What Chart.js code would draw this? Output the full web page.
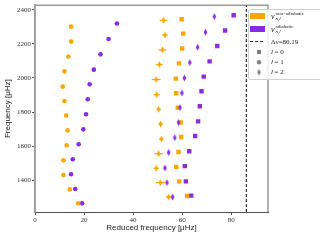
<!DOCTYPE html>
<html>
<head>
<meta charset="utf-8">
<script src="https://cdn.jsdelivr.net/npm/chart.js@4"></script>
<style>
  html, body { margin: 0; padding: 0; background: #fff; }
  canvas { display: block; }
</style>
</head>
<body>
<canvas id="chart" width="320" height="240"></canvas>
<script>
'use strict';

// l = 1 (circles)
const freqL1Non = [2302, 2214, 2126, 2039, 1949, 1865, 1779, 1692, 1604, 1516, 1429, 1345, 1263];
const redL1Non = [14.7, 14.7, 13.6, 12.0, 11.3, 12.0, 12.7, 13.3, 12.9, 11.6, 11.6, 14.2, 17.6];
const freqL1Ad = [2320, 2229, 2139, 2049, 1963, 1875, 1787, 1698, 1610, 1522, 1434, 1347, 1263];
const redL1Ad = [33.4, 30.0, 26.7, 24.0, 22.3, 21.5, 20.8, 19.7, 17.8, 15.4, 14.7, 16.4, 19.2];

// l = 2 (thin diamonds)
const freqL2Non = [2339, 2253, 2165, 2079, 1991, 1902, 1816, 1729, 1641, 1555, 1469, 1385, 1300];
const redL2Non = [52.4, 53.0, 52.0, 50.7, 49.4, 49.6, 50.4, 51.2, 51.5, 50.4, 49.4, 51.1, 54.5];
const errL2Non = [1.6, 1.2, 1.6, 1.4, 1.8, 1.2, 0.9, 0.9, 0.9, 1.8, 1.1, 1.9, 1.1];
const freqL2Ad = [2361, 2269, 2181, 2091, 2000, 1912, 1826, 1738, 1649, 1562, 1471, 1385, 1300];
const redL2Ad = [73.1, 69.5, 66.3, 63.1, 60.9, 59.9, 59.1, 58.5, 57.0, 54.5, 53.0, 53.8, 56.1];

// l = 0 (squares)
const freqL0Non = [2345, 2261, 2173, 2086, 1996, 1910, 1826, 1738, 1653, 1565, 1477, 1392, 1306];
const redL0Non = [59.8, 60.4, 60.0, 58.7, 57.4, 57.6, 58.2, 59.4, 59.6, 58.5, 57.6, 58.8, 62.0];
const freqL0Ad = [2369, 2279, 2188, 2098, 2008, 1922, 1834, 1745, 1659, 1569, 1482, 1392, 1308];
const redL0Ad = [81.0, 77.5, 74.3, 71.2, 68.8, 67.9, 67.2, 66.5, 65.3, 62.9, 61.1, 61.5, 63.7];

const deltaNu = 86.19;
const xTicks = [0, 20, 40, 60, 80];
const yTicks = [1400, 1600, 1800, 2000, 2200, 2400];
const xRange = [0, 95];
const yRange = [1212, 2428];

const ORANGE = '#ffa500';
const PURPLE = '#8a2be2';
const GREY = '#808080';

function pts(xs, ys) {
  return xs.map((x, i) => ({ x, y: ys[i] }));
}

function thinDiamond(color) {
  const c = document.createElement('canvas');
  c.width = 5;
  c.height = 8;
  const g = c.getContext('2d');
  g.fillStyle = color;
  g.beginPath();
  g.moveTo(2.5, 0.5);
  g.lineTo(4.3, 4);
  g.lineTo(2.5, 7.5);
  g.lineTo(0.7, 4);
  g.closePath();
  g.fill();
  return c;
}

const errorBars = {
  id: 'errorBars',
  beforeDatasetsDraw(chart) {
    const { ctx, scales: { x, y } } = chart;
    chart.data.datasets.forEach(ds => {
      if (!ds.errX) return;
      ctx.save();
      ctx.strokeStyle = ds.borderColor;
      ctx.lineWidth = 1.2;
      ds.data.forEach((p, i) => {
        const py = y.getPixelForValue(p.y);
        ctx.beginPath();
        ctx.moveTo(x.getPixelForValue(p.x - ds.errX[i]), py);
        ctx.lineTo(x.getPixelForValue(p.x + ds.errX[i]), py);
        ctx.stroke();
      });
      ctx.restore();
    });
  },
};

const frame = {
  id: 'frame',
  beforeDatasetsDraw(chart) {
    const { ctx, chartArea: a } = chart;
    ctx.save();
    ctx.strokeStyle = '#9a9a9a';
    ctx.lineWidth = 1.5;
    ctx.beginPath();
    ctx.moveTo(a.left, a.bottom);
    ctx.lineTo(a.left, a.top);
    ctx.lineTo(a.right, a.top);
    ctx.lineTo(a.right, a.bottom);
    ctx.stroke();
    ctx.restore();
  },
};

function drawNu(ctx, x, y, sup, sub) {
  ctx.font = 'italic 8px "Liberation Serif"';
  ctx.textBaseline = 'middle';
  ctx.fillText('ν', x, y + 1);
  ctx.font = '5px "Liberation Serif"';
  ctx.fillText(sup, x + 4.5, y - 2);
  ctx.font = 'italic 5px "Liberation Serif"';
  ctx.fillText(sub, x + 4.5, y + 3);
}

const legendBox = {
  id: 'legendBox',
  afterDraw(chart) {
    const ctx = chart.ctx;
    ctx.save();
    ctx.fillStyle = 'rgba(255,255,255,0.85)';
    ctx.strokeStyle = '#d0d0d0';
    ctx.lineWidth = 1;
    ctx.beginPath();
    ctx.roundRect(248.5, 9.5, 80, 70, 2);
    ctx.fill();
    ctx.stroke();

    ctx.fillStyle = ORANGE;
    ctx.fillRect(250, 13, 15, 6);
    ctx.fillStyle = PURPLE;
    ctx.fillRect(250, 26, 15, 6);

    ctx.fillStyle = '#222';
    drawNu(ctx, 271, 16, 'non−adiabatic', 'n,l');
    drawNu(ctx, 271, 29, 'adiabatic', 'n,l');

    ctx.strokeStyle = '#333';
    ctx.setLineDash([3, 2]);
    ctx.beginPath();
    ctx.moveTo(250, 41.5);
    ctx.lineTo(264, 41.5);
    ctx.stroke();
    ctx.setLineDash([]);

    ctx.fillStyle = '#222';
    ctx.font = '7px "Liberation Serif"';
    ctx.textBaseline = 'middle';
    ctx.fillText('Δν=86.19', 271, 42);

    ctx.fillStyle = GREY;
    ctx.fillRect(257, 50, 4, 4);
    ctx.beginPath();
    ctx.arc(259, 62.3, 2.2, 0, Math.PI * 2);
    ctx.fill();
    ctx.drawImage(thinDiamond(GREY), 256.5, 68.3);

    ctx.fillStyle = '#222';
    ctx.font = 'italic 7px "Liberation Serif"';
    ['l', 'l', 'l'].forEach((t, i) => ctx.fillText(t, 271, 52 + i * 10.3));
    ctx.font = '7px "Liberation Serif"';
    ['= 0', '= 1', '= 2'].forEach((t, i) => ctx.fillText(t, 274.5, 52 + i * 10.3));
    ctx.restore();
  },
};

const tickFont = { family: '"Liberation Serif"', size: 7 };
const titleFont = { family: '"Liberation Sans"', size: 8 };

new Chart(document.getElementById('chart').getContext('2d'), {
  type: 'scatter',
  data: {
    datasets: [
      {
        label: 'dnu',
        type: 'line',
        data: [{ x: deltaNu, y: yRange[0] }, { x: deltaNu, y: yRange[1] }],
        borderColor: '#333',
        borderWidth: 1.2,
        borderDash: [3, 2],
        pointRadius: 0,
        showLine: true,
      },
      { label: 'l1 non', data: pts(redL1Non, freqL1Non), backgroundColor: ORANGE, borderColor: ORANGE, pointStyle: 'circle', pointRadius: 2.3, borderWidth: 0 },
      { label: 'l1 ad', data: pts(redL1Ad, freqL1Ad), backgroundColor: PURPLE, borderColor: PURPLE, pointStyle: 'circle', pointRadius: 2.3, borderWidth: 0 },
      { label: 'l2 non', data: pts(redL2Non, freqL2Non), errX: errL2Non, backgroundColor: ORANGE, borderColor: ORANGE, pointStyle: thinDiamond(ORANGE) },
      { label: 'l2 ad', data: pts(redL2Ad, freqL2Ad), backgroundColor: PURPLE, borderColor: PURPLE, pointStyle: thinDiamond(PURPLE) },
      { label: 'l0 non', data: pts(redL0Non, freqL0Non), backgroundColor: ORANGE, borderColor: ORANGE, pointStyle: 'rect', pointRadius: 3.1, borderWidth: 0 },
      { label: 'l0 ad', data: pts(redL0Ad, freqL0Ad), backgroundColor: PURPLE, borderColor: PURPLE, pointStyle: 'rect', pointRadius: 3.1, borderWidth: 0 },
    ],
  },
  options: {
    responsive: false,
    animation: false,
    devicePixelRatio: 1,
    layout: { padding: { top: 5, right: 52, left: 0, bottom: 0 } },
    plugins: {
      legend: { display: false },
      tooltip: { enabled: false },
    },
    scales: {
      x: {
        type: 'linear',
        min: xRange[0],
        max: xRange[1],
        afterBuildTicks: s => { s.ticks = xTicks.map(v => ({ value: v })); },
        afterFit: s => { s.height = 28; },
        grid: { drawOnChartArea: false, tickLength: 3, color: '#555' },
        border: { color: '#555', width: 1 },
        ticks: { font: tickFont, color: '#333', padding: 1, maxRotation: 0, callback: v => String(v) },
        title: { display: true, text: 'Reduced frequency [μHz]', font: titleFont, color: '#222', padding: { top: 0, bottom: 7 } },
      },
      y: {
        type: 'linear',
        min: yRange[0],
        max: yRange[1],
        afterBuildTicks: s => { s.ticks = yTicks.map(v => ({ value: v })); },
        afterFit: s => { s.width = 35; },
        grid: { drawOnChartArea: false, tickLength: 3, color: '#555' },
        border: { color: '#9a9a9a', width: 1.5 },
        ticks: { font: tickFont, color: '#333', padding: 1, callback: v => String(v) },
        title: { display: true, text: 'Frequency [μHz]', font: titleFont, color: '#222', padding: { top: 3, bottom: 0 } },
      },
    },
  },
  plugins: [frame, errorBars, legendBox],
});
</script>
</body>
</html>
